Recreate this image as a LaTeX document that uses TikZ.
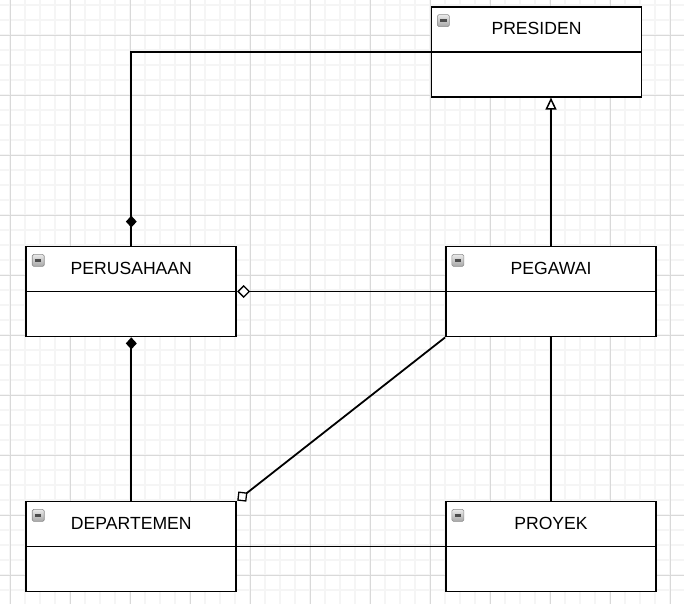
\documentclass[tikz,border=0pt]{standalone}
\usepackage{fontspec}
\setmainfont{Liberation Sans}
\usetikzlibrary{calc}
\usetikzlibrary{positioning}
\usetikzlibrary{arrows.meta}
\usetikzlibrary{shapes.geometric}

\begin{document}
\begin{tikzpicture}[
    x=1pt, y=-1pt,
    cls/.style={draw, line width=1.8pt, rectangle, fill=white, minimum width=210pt, minimum height=90pt, inner sep=0pt},
    lab/.style={font=\fontsize{17.6}{20}\selectfont, text=black, inner sep=0pt},
    icon/.style={draw=black!45, line width=0.6pt, rounded corners=1.5pt, top color=black!8, bottom color=black!35, minimum width=12pt, minimum height=12pt, inner sep=0pt, anchor=north west},
    minor/.style={black!4, line width=1.2pt},
    major/.style={black!15, line width=0.9pt},
    con/.style={line width=1.8pt},
    dmd/.style={diamond, fill=black, inner sep=0pt, minimum width=11pt, minimum height=12pt}
]
\useasboundingbox (0,0) rectangle (684,604);
\fill[white] (0,0) rectangle (684,604);

% Grid
\foreach \x in {10,25,...,684} \draw[minor] (\x,0) -- (\x,604);
\foreach \y in {5,20,...,604} \draw[minor] (0,\y) -- (684,\y);
\foreach \x in {10,70,...,684} \draw[major] (\x,0) -- (\x,604);
\foreach \y in {35,95,...,604} \draw[major] (0,\y) -- (684,\y);

% Class centres
\coordinate (P) at (536.5,51.7);
\coordinate (U) at (131.3,291.5);
\coordinate (G) at (551,291.5);
\coordinate (D) at (131.3,546.5);
\coordinate (Y) at (551,546.5);

% Class boxes
\node[cls] (pres) at (P) {};
\node[cls] (peru) at (U) {};
\node[cls] (peg) at (G) {};
\node[cls] (dep) at (D) {};
\node[cls] (proy) at (Y) {};

% Compartment lines
\draw[con] (pres.west) -- (pres.east);
\draw[con] (peru.west) -- (peru.east);
\draw[con] (peg.west) -- (peg.east);
\draw[con] (dep.west) -- (dep.east);
\draw[con] (proy.west) -- (proy.east);

% Connectors
\draw[con] (pres.west) -| (peru.north);
\node[dmd] (dm) at ($(peru.north)+(0,-24)$) {};
\draw[con, -{Diamond[open, fill=white, length=13pt, width=13pt, line width=1.3pt]}] (peg.west) -- (peru.east);
\draw[con, -{Triangle[open, fill=white, length=12pt, width=11pt, line width=1.5pt]}] (peg.north) -- (peg.north |- pres.south);
\draw[con, -{Diamond[length=12pt, width=11pt]}] (dep.north) -- (peru.south);
\draw[con, -{Diamond[open, fill=white, length=13pt, width=13pt, line width=1.3pt]}] (peg.south west) -- (dep.north east);
\draw[con] (dep.east) -- (proy.west);
\draw[con] (peg.south) -- (proy.north);

% Collapse icons
\foreach \c in {pres,peru,peg,dep,proy}
  \node[icon] (\c-icon) at ($(\c.north west)+(6.5,8.5)$) {\textcolor{black!70}{\rule[-1pt]{6.5pt}{2.2pt}}};

% Class names
\node[lab] (pres-lab) at ($(pres.north)+(0,22.5)$) {PRESIDEN};
\node[lab] (peru-lab) at ($(peru.north)+(0,22.5)$) {PERUSAHAAN};
\node[lab] (peg-lab) at ($(peg.north)+(0,22.5)$) {PEGAWAI};
\node[lab] (dep-lab) at ($(dep.north)+(0,22.5)$) {DEPARTEMEN};
\node[lab] (proy-lab) at ($(proy.north)+(0,22.5)$) {PROYEK};

\end{tikzpicture}
\end{document}
